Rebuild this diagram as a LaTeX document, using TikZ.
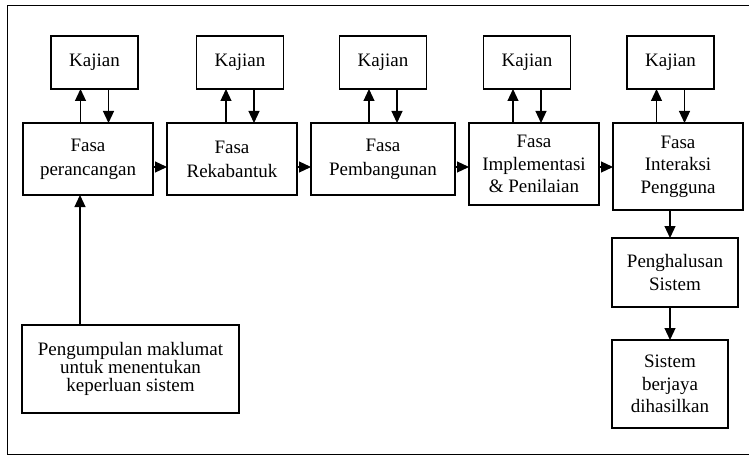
\documentclass[tikz,border=0pt]{standalone}
\usepackage{fontspec}
\setmainfont{Liberation Serif}
\usetikzlibrary{positioning, arrows.meta}

\tikzset{
  kajian/.style={draw, line width=1.2pt, outer sep=0pt, minimum width=87pt, minimum height=53pt,
    font=\fontsize{19}{22}\selectfont},
  fasa/.style={draw, line width=1.2pt, outer sep=0pt, minimum width=130pt, minimum height=72pt,
    align=center, inner sep=2pt, font=\fontsize{19}{24}\selectfont},
  hasil/.style={draw, line width=1.2pt, outer sep=0pt, align=center, inner sep=2pt,
    font=\fontsize{19}{22.5}\selectfont}
}

\begin{document}
\begin{tikzpicture}[x=1pt, y=-1pt, >={Triangle[length=12pt,width=11pt]}, line width=1.2pt]
  \useasboundingbox (0,0) rectangle (749,457);
  \draw[line width=1pt] (749,6) -- (7,6) -- (7,454) -- (749,454);

  % fasa
  \node[fasa, anchor=north west] (f1) at (23,123) {Fasa\\perancangan};
  \node[fasa, right=14pt of f1.north east, anchor=north west] (f2) {Fasa\\Rekabantuk};
  \node[fasa, minimum width=144pt, right=14pt of f2.north east, anchor=north west] (f3) {Fasa\\Pembangunan};
  \node[fasa, minimum height=82pt, font=\fontsize{19}{22.5}\selectfont,
        right=14pt of f3.north east, anchor=north west] (f4) {Fasa\\Implementasi\\\& Penilaian};
  \node[fasa, minimum height=87pt, font=\fontsize{19}{22.5}\selectfont,
        right=14pt of f4.north east, anchor=north west] (f5) {Fasa\\Interaksi\\Pengguna};

  % kajian
  \node[kajian] (k1) at (94.5,62.5) {Kajian};
  \node[kajian] (k2) at (240,62.5) {Kajian};
  \node[kajian] (k3) at (383,62.5) {Kajian};
  \node[kajian] (k4) at (527,62.5) {Kajian};
  \node[kajian] (k5) at (670.5,62.5) {Kajian};

  % hujung
  \node[hasil, minimum width=126pt, minimum height=69pt,
        below=28pt of f5, xshift=-3pt] (g) {Penghalusan\\Sistem};
  \node[hasil, minimum width=116pt, minimum height=88pt,
        below=33pt of g, xshift=-5pt] (s) {Sistem\\berjaya\\dihasilkan};
  \node[hasil, minimum width=217pt, minimum height=88pt,
        font=\fontsize{19}{18}\selectfont] (p) at (130.5,369)
        {Pengumpulan maklumat\\untuk menentukan\\keperluan sistem};

  % kajian <-> fasa
  \draw[->] ([xshift=-14pt]k1.south |- f1.north) -- ([xshift=-14pt]k1.south);
  \draw[->] ([xshift=14pt]k1.south) -- ([xshift=14pt]k1.south |- f1.north);
  \draw[->] ([xshift=-14pt]k2.south |- f2.north) -- ([xshift=-14pt]k2.south);
  \draw[->] ([xshift=14pt]k2.south) -- ([xshift=14pt]k2.south |- f2.north);
  \draw[->] ([xshift=-14pt]k3.south |- f3.north) -- ([xshift=-14pt]k3.south);
  \draw[->] ([xshift=14pt]k3.south) -- ([xshift=14pt]k3.south |- f3.north);
  \draw[->] ([xshift=-14pt]k4.south |- f4.north) -- ([xshift=-14pt]k4.south);
  \draw[->] ([xshift=14pt]k4.south) -- ([xshift=14pt]k4.south |- f4.north);
  \draw[->] ([xshift=-14pt]k5.south |- f5.north) -- ([xshift=-14pt]k5.south);
  \draw[->] ([xshift=14pt]k5.south) -- ([xshift=14pt]k5.south |- f5.north);

  % fasa -> fasa
  \draw[->] ([yshift=-44pt]f1.north east) -- ([yshift=-44pt]f2.north west);
  \draw[->] ([yshift=-44pt]f2.north east) -- ([yshift=-44pt]f3.north west);
  \draw[->] ([yshift=-44pt]f3.north east) -- ([yshift=-44pt]f4.north west);
  \draw[->] ([yshift=-44pt]f4.north east) -- ([yshift=-44pt]f5.north west);

  \draw[->] ([xshift=-50.5pt]p.north) -- ([xshift=-50.5pt]p.north |- f1.south);
  \draw[->] (s.north |- f5.south) -- (s.north |- g.north);
  \draw[->] (s.north |- g.south) -- (s.north);
\end{tikzpicture}
\end{document}
